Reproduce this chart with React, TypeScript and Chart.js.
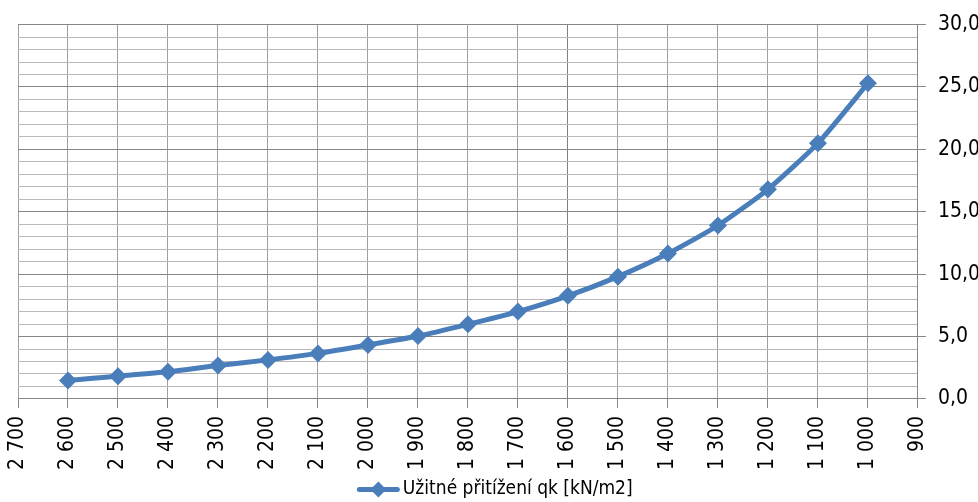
import React, { useEffect, useRef } from "react";
import { Chart, registerables } from "chart.js";

Chart.register(...registerables);

const X_VALUES = [2600, 2500, 2400, 2300, 2200, 2100, 2000, 1900, 1800, 1700, 1600, 1500, 1400, 1300, 1200, 1100, 1000];
const Q_VALUES = [1.48, 1.82, 2.17, 2.68, 3.13, 3.65, 4.32, 5.04, 5.98, 7.0, 8.26, 9.8, 11.65, 13.9, 16.8, 20.5, 25.3];
const SERIES_LABEL = "Užitné přitížení qk [kN/m2]";
const X_MIN = 900;
const X_MAX = 2700;
const Y_MIN = 0;
const Y_MAX = 30;

const FONT = "'Liberation Sans Narrow', 'DejaVu Sans Condensed', 'Open Sans', sans-serif";
const BLUE = "#4a7ebb";
const LEGEND_LINE = 38;

function fmtX(v: number): string {
  if (v >= 1000) {
    return Math.floor(v / 1000) + " " + String(v % 1000).padStart(3, "0");
  }
  return String(v);
}

function fmtY(v: number): string {
  return v.toFixed(1).replace(".", ",");
}

const legendLinePlugin = {
  id: "legendLine",
  afterDraw(chart: any) {
    const legend = chart.legend;
    if (!legend || !legend.legendHitBoxes || !legend.legendHitBoxes.length) return;
    const hb = legend.legendHitBoxes[0];
    const cy = hb.top + hb.height / 2;
    const ctx = chart.ctx;
    ctx.save();
    ctx.strokeStyle = BLUE;
    ctx.lineWidth = 5;
    ctx.lineCap = "round";
    ctx.beginPath();
    ctx.moveTo(hb.left, cy);
    ctx.lineTo(hb.left + LEGEND_LINE, cy);
    ctx.stroke();
    const cx = hb.left + LEGEND_LINE / 2;
    const r = 8;
    ctx.fillStyle = BLUE;
    ctx.beginPath();
    ctx.moveTo(cx, cy - r);
    ctx.lineTo(cx + r, cy);
    ctx.lineTo(cx, cy + r);
    ctx.lineTo(cx - r, cy);
    ctx.closePath();
    ctx.fill();
    ctx.restore();
  },
};

export default function App() {
  const ref = useRef<HTMLCanvasElement | null>(null);

  useEffect(() => {
    if (!ref.current) return;
    const points = X_VALUES.map((x, i) => ({ x, y: Q_VALUES[i] }));
    const chart = new Chart(ref.current, {
      type: "line",
      data: {
        datasets: [
          {
            label: SERIES_LABEL,
            data: points,
            borderColor: BLUE,
            backgroundColor: BLUE,
            borderWidth: 5,
            tension: 0.2,
            pointStyle: "rectRot",
            pointRadius: 9,
            pointBorderWidth: 0,
            pointBackgroundColor: BLUE,
            pointBorderColor: BLUE,
          },
        ],
      },
      options: {
        responsive: false,
        animation: false,
        layout: { padding: { top: 12, left: 0, right: 0, bottom: -7 } },
        plugins: {
          tooltip: { enabled: false },
          legend: {
            display: true,
            position: "bottom",
            labels: {
              boxWidth: 34,
              boxHeight: 10,
              padding: 2,
              color: "#000",
              font: { family: FONT, size: 19 },
              generateLabels: () => [
                {
                  text: SERIES_LABEL,
                  fillStyle: "rgba(0,0,0,0)",
                  strokeStyle: "rgba(0,0,0,0)",
                  lineWidth: 0,
                  hidden: false,
                  datasetIndex: 0,
                } as any,
              ],
            },
          },
        },
        scales: {
          x: {
            type: "linear",
            reverse: true,
            min: X_MIN,
            max: X_MAX,
            afterFit: (scale: any) => {
              scale.paddingLeft = 18;
            },
            grid: {
              color: (c: any) => (c.tick && c.tick.value === 1600 ? "#7f7f7f" : "#a0a0a0"),
              tickColor: "#868686",
              tickLength: 9,
              lineWidth: 1,
            },
            border: { color: "#868686", width: 1 },
            ticks: {
              stepSize: 100,
              autoSkip: false,
              minRotation: 90,
              maxRotation: 90,
              padding: 8,
              color: "#000",
              font: { family: FONT, size: 21 },
              callback: (v: any) => fmtX(Number(v)),
            },
          },
          y: {
            type: "linear",
            position: "right",
            min: Y_MIN,
            max: Y_MAX,
            grid: {
              color: (c: any) => (c.tick && c.tick.value % 5 === 0 ? "#868686" : "#b8b8b8"),
              tickColor: (c: any) => (c.tick && c.tick.value % 5 === 0 ? "#868686" : "rgba(0,0,0,0)"),
              tickLength: 8,
              lineWidth: 1,
            },
            border: { color: "#868686", width: 1 },
            ticks: {
              stepSize: 1,
              autoSkip: false,
              padding: 12,
              color: "#000",
              font: { family: FONT, size: 21 },
              callback: (v: any) => (Number(v) % 5 === 0 ? fmtY(Number(v)) : ""),
            },
          },
        },
      },
      plugins: [legendLinePlugin],
    });
    return () => chart.destroy();
  }, []);

  return (
    <div style={{ position: "fixed", left: 0, top: 0, width: 978, height: 502, overflow: "hidden", background: "#fff" }}>
      <canvas ref={ref} width={992} height={502} style={{ display: "block" }} />
    </div>
  );
}
